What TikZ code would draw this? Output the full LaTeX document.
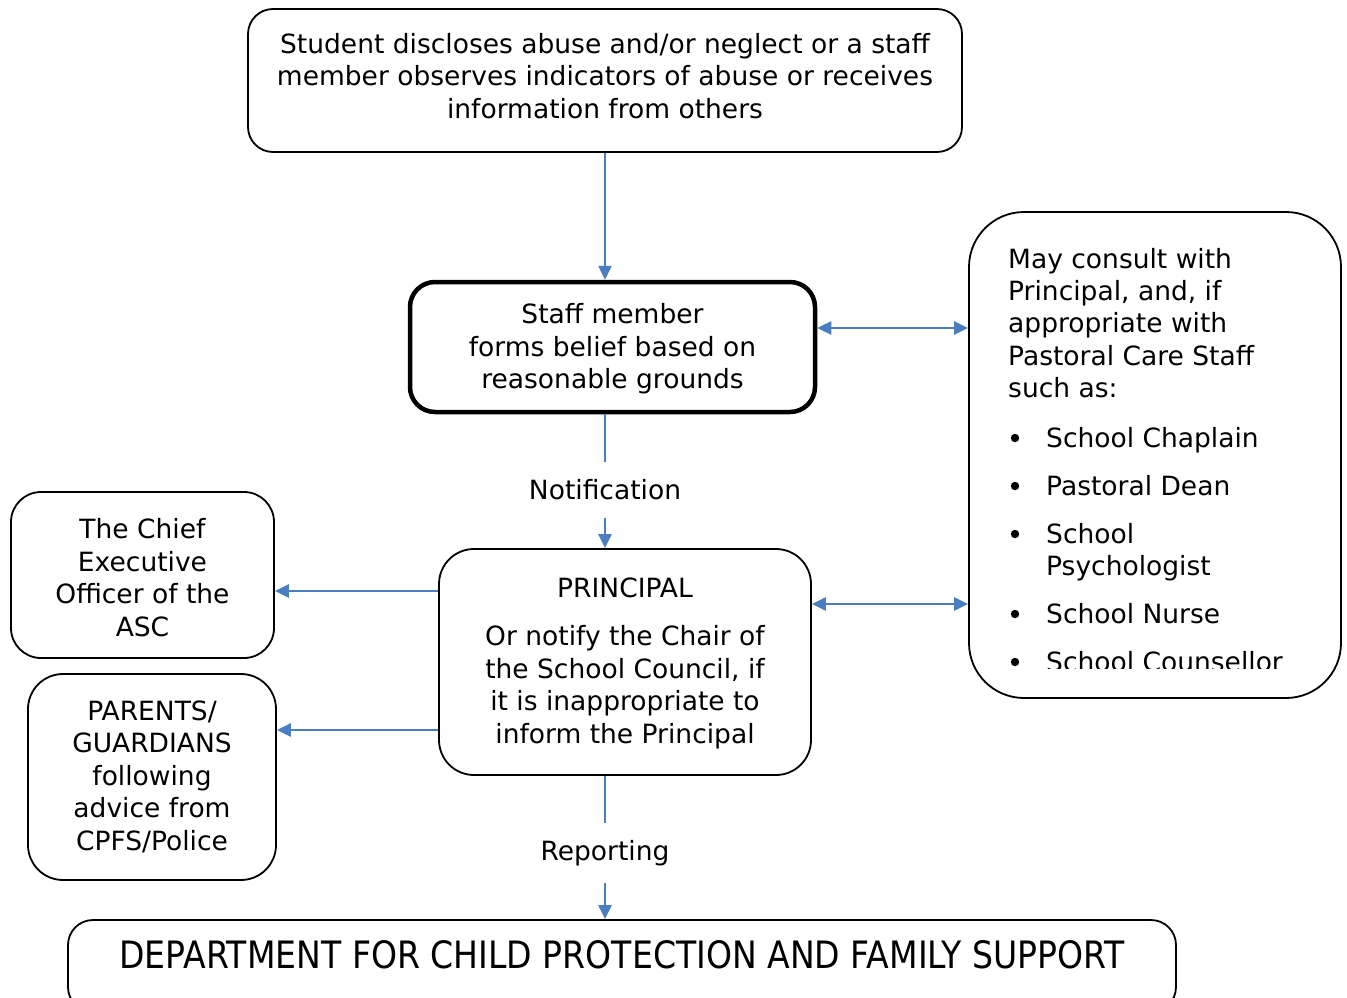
\documentclass[tikz,border=0pt]{standalone}
\usepackage{fontspec}
\setmainfont{DejaVu Sans}
\usetikzlibrary{arrows.meta}
\definecolor{arrowblue}{RGB}{74,126,193}
\tikzset{
  box/.style={draw=black, line width=1.8pt, rounded corners=#1, inner sep=0pt},
  box/.default=25pt,
  btext/.style={inner sep=0pt, align=center, font=\fontsize{26.5}{32.5}\selectfont},
  lbl/.style={inner sep=0pt, font=\fontsize{26.5}{32}\selectfont},
  txt/.style={inner sep=0pt, anchor=base west, font=\fontsize{26.5}{32.3}\selectfont},
  tip/.style={Triangle[length=14pt,width=13pt]},
  conn/.style={draw=arrowblue, line width=2.5pt, -{Triangle[length=14pt,width=13pt]}},
  biconn/.style={draw=arrowblue, line width=2.5pt, {Triangle[length=14pt,width=13pt]}-{Triangle[length=14pt,width=13pt]}},
  plain/.style={draw=arrowblue, line width=2.5pt}
}
\begin{document}
\begin{tikzpicture}[x=1pt,y=-1pt]
\useasboundingbox[fill=white] (0,0) rectangle (1347,998);

\node[box, minimum width=714pt, minimum height=143pt] (top) at (605,80.5) {};
\node[btext] (topt) at (605,76)
  {Student discloses abuse and/or neglect or a staff\\member observes indicators of abuse or receives\\information from others};

\node[box, line width=4.5pt, minimum width=405pt, minimum height=130pt] (staff) at (612.5,347) {};
\node[btext] (stafft) at (612.5,349)
  {Staff member\\forms belief based on\\reasonable grounds};

\node[box=55pt, minimum width=372pt, minimum height=486pt] (right) at (1155,455) {};

\node[txt, align=left] (may) at (1008,397.5)
  {May consult with\\Principal, and, if\\appropriate with\\Pastoral Care Staff\\such as:};
\node[txt] (b1) at (1046,447) {School Chaplain};
\node[txt] (b2) at (1046,495) {Pastoral Dean};
\node[txt, align=left] (b3) at (1046,575.5) {School\\Psychologist};
\node[txt] (b4) at (1046,623) {School Nurse};
\foreach \yy in {438,486,534,614,662} {\fill (1015,\yy) circle (4.2pt);}
\begin{scope}
\clip (1000,630) rectangle (1340,668.5);
\node[txt] (b5) at (1046,671) {School Counsellor};
\end{scope}

\node[box=30pt, minimum width=263pt, minimum height=166pt] (chief) at (142.5,575) {};
\node[btext] (chieft) at (142.5,577.5)
  {The Chief\\Executive\\Officer of the\\ASC};

\node[box=35pt, minimum width=248pt, minimum height=206pt] (parents) at (152,777) {};
\node[btext] (parentst) at (152,776.5)
  {PARENTS/\\GUARDIANS\\following\\advice from\\CPFS/Police};

\node[box=35pt, minimum width=372pt, minimum height=226pt] (principal) at (625,662) {};
\node[btext] (principalt) at (625,663)
  {PRINCIPAL\\[16pt]Or notify the Chair of\\the School Council, if\\it is inappropriate to\\inform the Principal};

\node[box=25pt, minimum width=1108pt, minimum height=92pt] (dept) at (622,966) {};
\node[inner sep=0pt] (deptt) at (622,955)
  {\resizebox{1005pt}{28pt}{DEPARTMENT FOR CHILD PROTECTION AND FAMILY SUPPORT}};

\node[lbl, minimum height=56pt] (notif) at (605,490) {Notification};
\node[lbl, minimum height=57pt] (report) at (605,853) {Reporting};

\draw[conn] (top.south) -- (top.south |- staff.north);
\draw[plain] (notif.north |- staff.south) -- (notif.north);
\draw[conn] (notif.south) -- (notif.south |- principal.north);
\draw[plain] (report.north |- principal.south) -- ([yshift=1.5pt]report.north);
\draw[conn] ([yshift=-1.5pt]report.south) -- (report.south |- dept.north);

\draw[biconn] ([yshift=19pt]staff.east) -- ([yshift=19pt]staff.east -| right.west);
\draw[biconn] ([yshift=58pt]principal.east) -- ([yshift=58pt]principal.east -| right.west);
\draw[conn] ([yshift=71pt]principal.west) -- ([yshift=71pt]principal.west -| chief.east);
\draw[conn] ([yshift=-68pt]principal.west) -- ([yshift=-68pt]principal.west -| parents.east);
\end{tikzpicture}
\end{document}
